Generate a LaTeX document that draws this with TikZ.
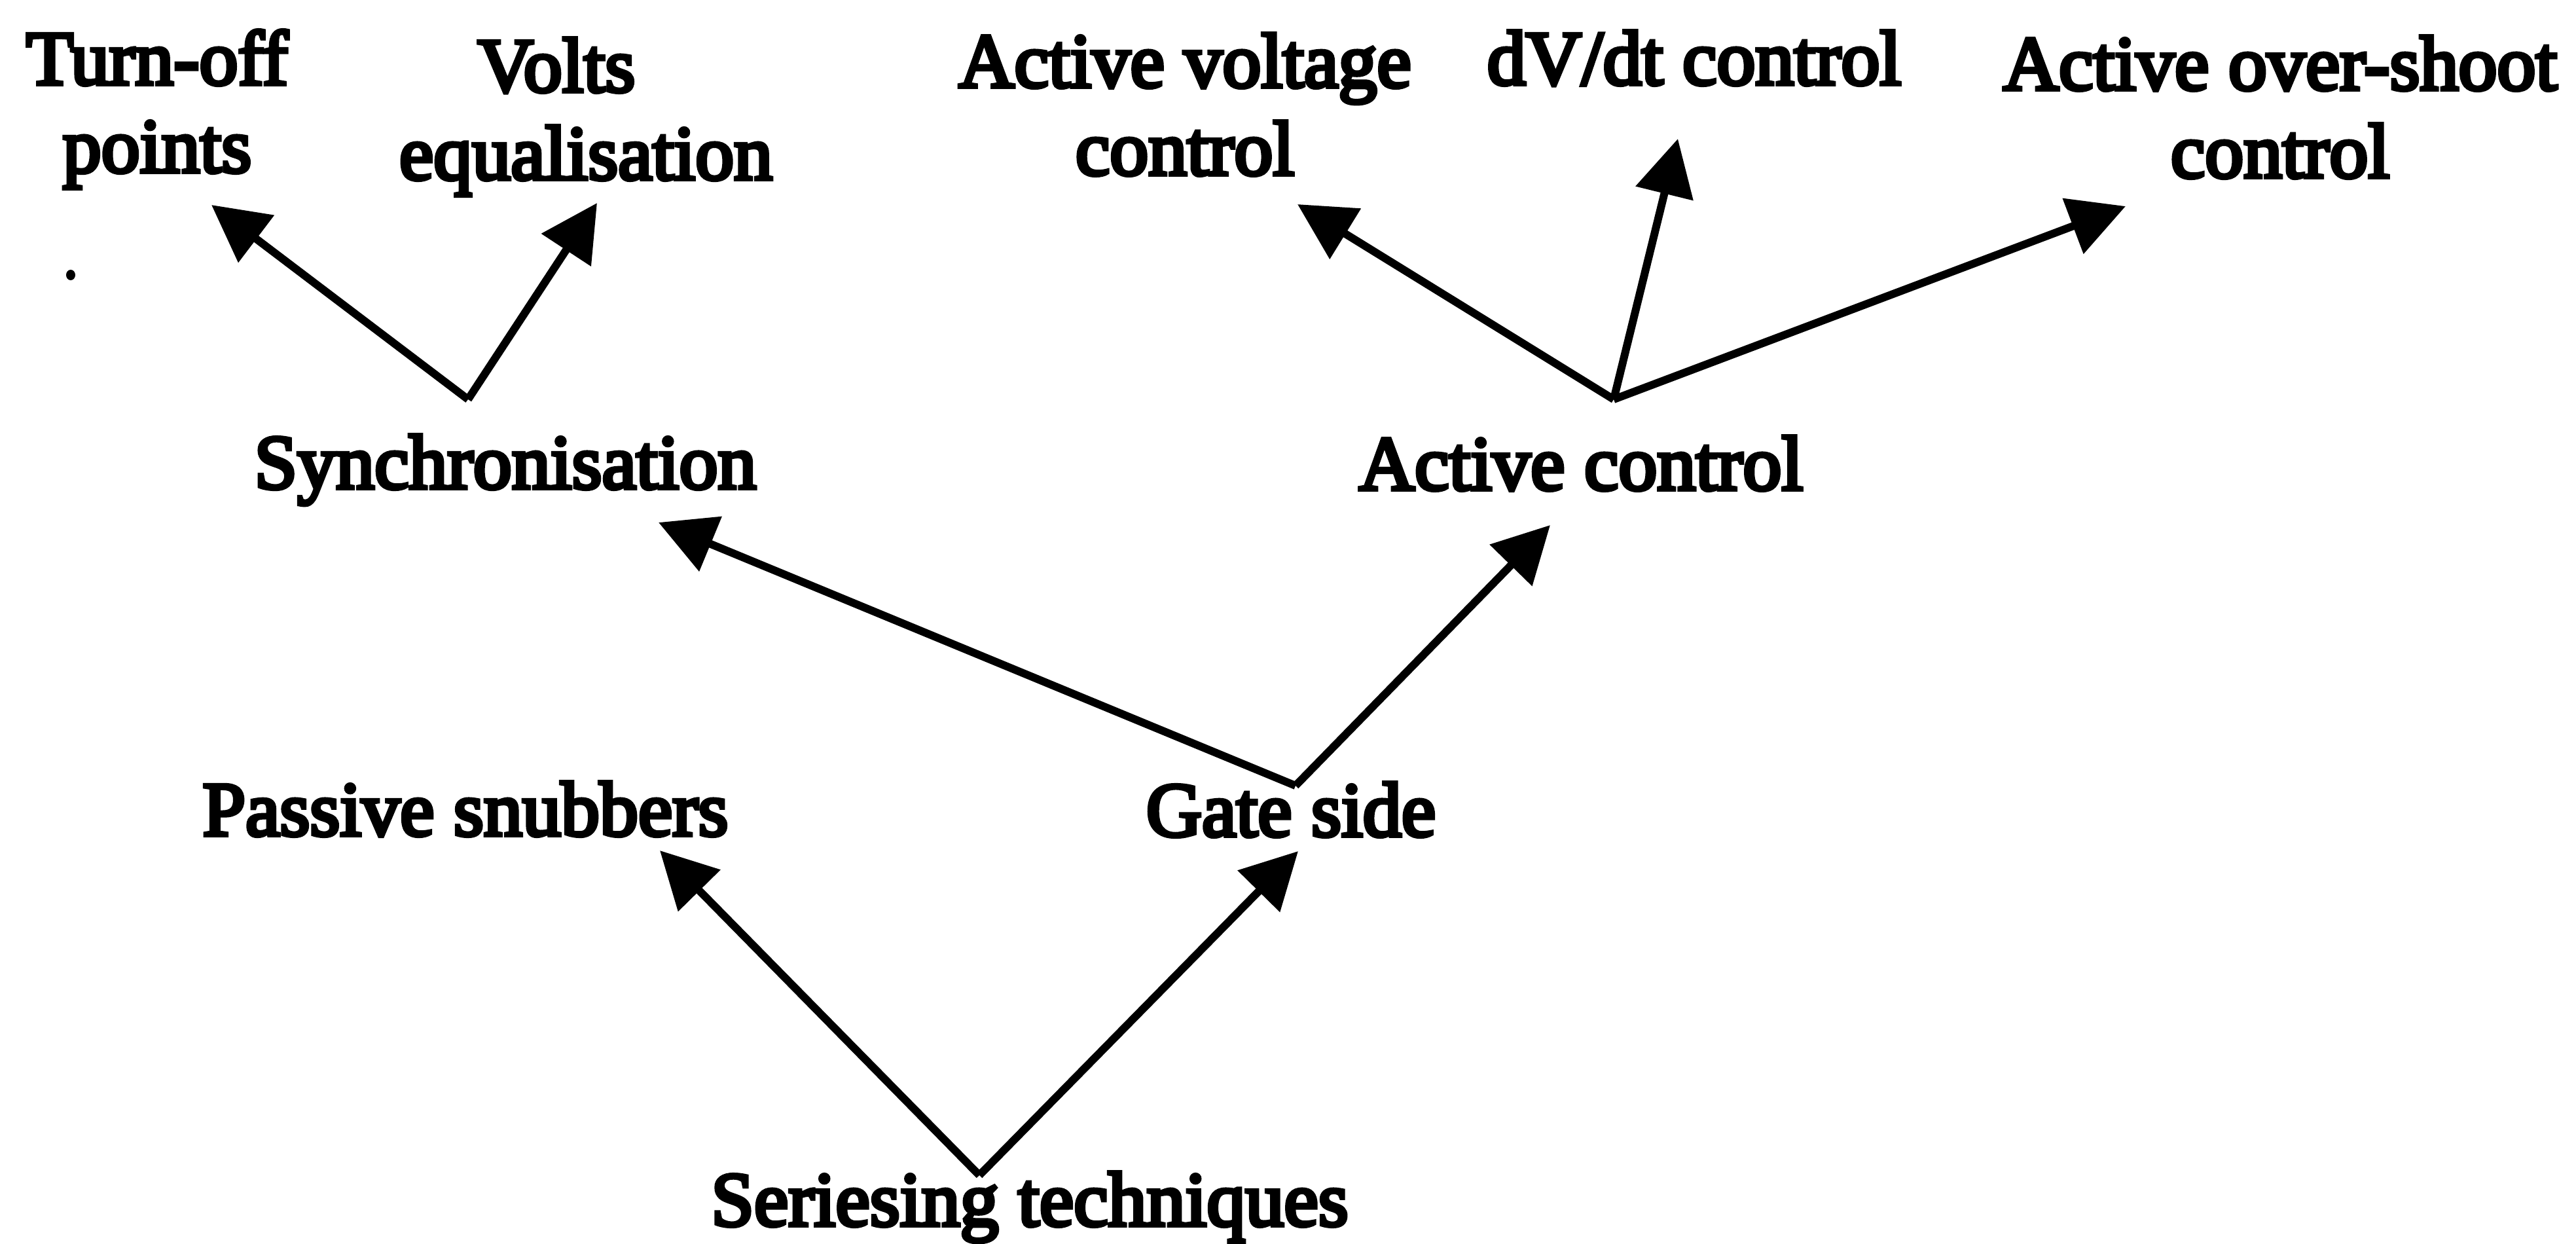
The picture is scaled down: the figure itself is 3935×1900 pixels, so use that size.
\documentclass[tikz,border=0pt]{standalone}
\usepackage{fontspec}
\setmainfont{Liberation Serif}[FakeBold=5]
\usetikzlibrary{arrows.meta,calc}

\tikzset{
  lbl/.style={anchor=base, inner sep=0pt, outer sep=0pt,
    font=\fontsize{118}{134}\selectfont},
  arr/.style={line width=12pt, line join=miter,
    -{Triangle[length=86pt,width=88pt]}},
}
\newcommand{\twoline}[2]{\begin{tabular}[t]{@{}c@{}}#1\\#2\end{tabular}}

\begin{document}
\begin{tikzpicture}[x=1pt,y=-1pt]
  \useasboundingbox[fill=white] (0,0) rectangle (3935,1900);

  % top row
  \node[lbl] (turn)  at (240,129)  {\twoline{Turn-off}{points}};
  \node[lbl] (volts) at (895,140)  {\twoline{Volts\hspace*{90pt}}{equalisation}};
  \node[lbl] (avc)   at (1810,133) {\twoline{Active voltage}{control}};
  \node[lbl] (dvdt)  at (2588,129) {dV/dt control};
  \node[lbl] (aoc)   at (3483,137) {\twoline{Active over-shoot}{control}};

  % middle rows
  \node[lbl] (sync)  at (772,746)   {Synchronisation};
  \node[lbl] (actc)  at (2415,748)  {Active control};
  \node[lbl] (pas)   at (711,1276)  {Passive snubbers};
  \node[lbl] (gate)  at (1972,1277) {Gate side};

  % root
  \node[lbl] (ser)   at (1573,1872) {Seriesing techniques};

  % stray ink mark
  \fill (108,420) ellipse [x radius=7, y radius=8];

  % branches from the root
  \draw[arr] ($(ser.base)+(-77,-77)$) -- ($(pas.base)+(297,23)$);
  \draw[arr] ($(ser.base)+(-77,-77)$) -- ($(gate.base)+(11,23)$);

  % branches from gate side
  \draw[arr] ($(gate.base)+(7,-77)$) -- ($(sync.base)+(234,52)$);
  \draw[arr] ($(gate.base)+(7,-77)$) -- ($(actc.base)+(-47,54)$);

  % branches from synchronisation
  \draw[arr] ($(sync.base)+(-57,-136)$) -- ($(turn.base)+(83,184)$);
  \draw[arr] ($(sync.base)+(-57,-136)$) -- ($(volts.base)+(17,170)$);

  % branches from active control
  \draw[arr] ($(actc.base)+(50,-138)$) -- ($(avc.base)+(172,179)$);
  \draw[arr] ($(actc.base)+(50,-138)$) -- ($(dvdt.base)+(-25,83)$);
  \draw[arr] ($(actc.base)+(50,-138)$) -- ($(aoc.base)+(-236,178)$);
\end{tikzpicture}
\end{document}
